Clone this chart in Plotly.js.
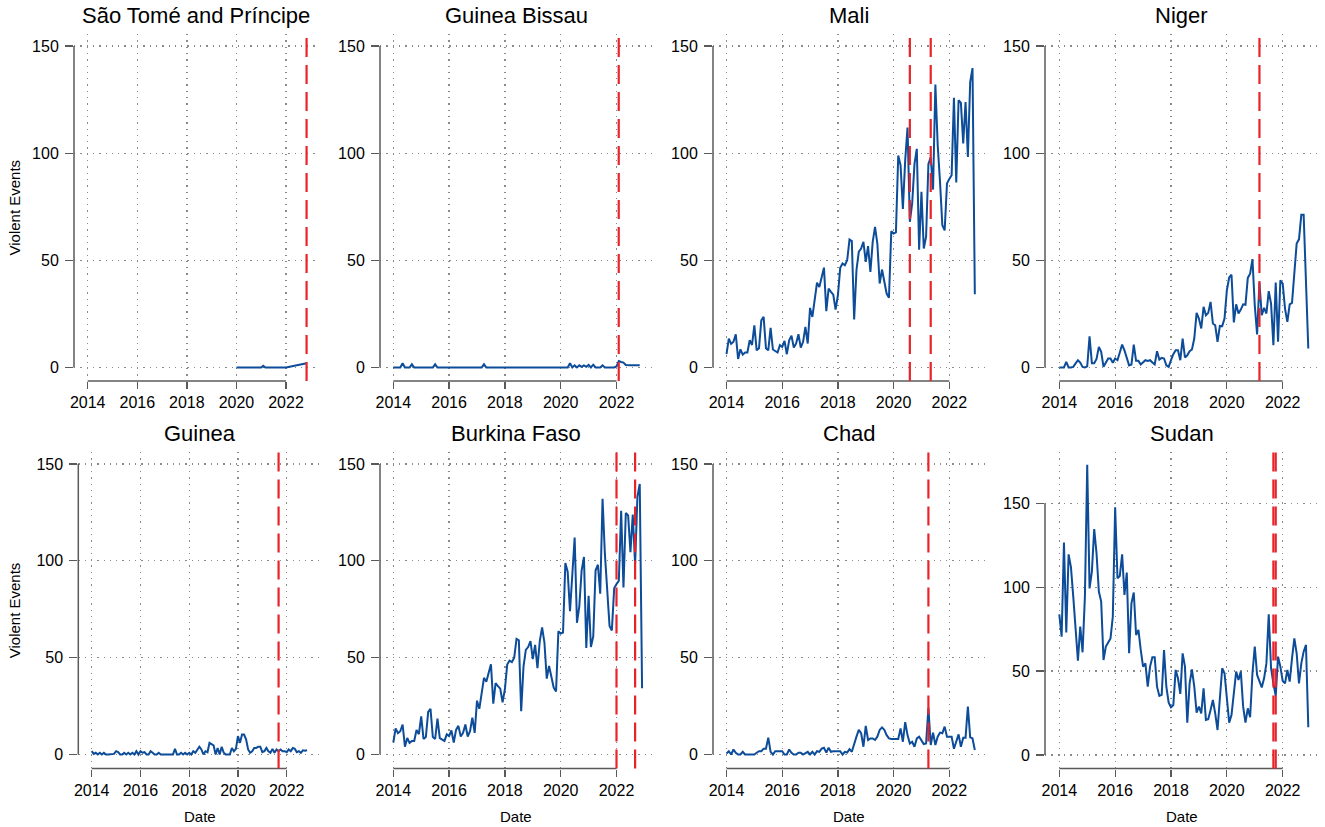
<!DOCTYPE html>
<html>
<head>
<meta charset="utf-8">
<script src="https://cdn.plot.ly/plotly-3.0.1.min.js"></script>
<style>
  html, body { margin: 0; padding: 0; background: #fff; }
  #myDiv { width: 1325px; height: 827px; }
</style>
</head>
<body>
<div id="myDiv"></div>
<script>
// Monthly violent events per country, month index 0 = Jan 2014
var countries = ["São Tomé and Príncipe", "Guinea Bissau", "Mali", "Niger",
                 "Guinea", "Burkina Faso", "Chad", "Sudan"];

var yearTicks = [2014, 2016, 2018, 2020, 2022];
var eventTicks = [0, 50, 100, 150];

// São Tomé only has a few observations
var stpMonths = [72, 84, 85, 86, 87, 96, 106];
var stpEvents = [0, 0, 0.8, 0, 0, 0, 2];

var guineaBissauEvents = [
  0, 0, 0, 0, 2, 0, 0, 0, 1.5, 0, 0, 0,
  0, 0, 0, 0, 0, 0, 1.5, 0, 0, 0, 0, 0,
  0, 0, 0, 0, 0, 0, 0, 0, 0, 0, 0, 0,
  0, 0, 0, 1.5, 0, 0, 0, 0, 0, 0, 0, 0,
  0, 0, 0, 0, 0, 0, 0, 0, 0, 0, 0, 0,
  0, 0, 0, 0, 0, 0, 0, 0, 0, 0, 0, 0,
  0, 0, 0, 0, 2, 0, 1, 0, 1, 0.3, 1, 0.3,
  1.2, 0, 1.3, 0, 0, 0, 1, 0, 0, 0, 0, 0,
  0.5, 3, 2.6, 2.3, 1.2, 1, 1, 1, 1, 1, 1];

var maliEvents = [
  6.2, 13.5, 11, 12, 15.5, 4, 8.5, 6, 7, 7, 12.7, 10.5,
  19.7, 8, 9, 22, 23.6, 9, 8, 18.5, 8.4, 7.8, 7, 10.4,
  9.6, 12.4, 6.2, 12.7, 14.8, 9.3, 11.2, 15.5, 9.3, 12, 19, 11.2,
  27.8, 23.6, 32, 39.6, 37.6, 42.3, 46.6, 26.3, 36.8, 35.3, 34, 27,
  33.7, 46.5, 48.5, 47.7, 50, 59.7, 59, 22.4, 45.4, 54, 55.5, 58.6,
  49.3, 56.6, 44.6, 58.6, 65.6, 57.8, 39.2, 45.7, 40.4, 34.5, 32.5, 63.6,
  62.5, 63, 98.9, 94.4, 74, 96.7, 112, 68, 76.5, 95, 102, 55,
  82, 55.5, 61, 95, 98, 83, 132, 103.7, 86.6, 66.4, 64, 85.8,
  88, 89.7, 125.8, 86.3, 124.7, 123.4, 104.5, 123.9, 98.2, 133.2, 139.7, 34.2];

var nigerEvents = [
  0, 0, 0, 2.6, 0, 0, 0.3, 1.9, 3.4, 2.3, 0.3, 0,
  0.5, 14.5, 2, 2, 4, 9.6, 7.3, 0.3, 2, 4.2, 4.2, 2.2,
  4.2, 3.4, 7, 10.7, 8, 4.2, 1, 1.4, 10.7, 3.1, 3.1, 1.4,
  2.2, 3.4, 3.1, 3.4, 2.3, 1.4, 7.6, 3.7, 4.5, 4.2, 1, 0.3,
  3.4, 6.2, 8, 8, 3.4, 13.5, 4.7, 5.7, 7.6, 8.4, 13.5, 25.5,
  22.8, 18.2, 28.3, 24.4, 25.5, 30.6, 20.5, 19.7, 12, 19.4, 19.3, 22.8,
  36, 42, 43.3, 21, 29.5, 25.2, 27, 29.5, 29.3, 41.8, 43.8, 50.6,
  29, 15.4, 39.6, 24.4, 27.8, 25.2, 35.6, 29.8, 10.4, 39.6, 12, 40.7,
  39.1, 27.5, 21.3, 29.5, 30.1, 45.7, 57.8, 59.8, 71.3, 71.3, 40, 8.9];

var guineaEvents = [
  1.7, 0.3, 0.9, 0, 0.9, 0, 0.9, 0, 0, 0, 0, 0.3,
  1.7, 1.2, 0, 0, 0.9, 0, 0.9, 0, 0.9, 0, 1.7, 0,
  1.7, 0.9, 1.2, 0, 0, 1.7, 0.9, 0, 0, 0.9, 0, 0,
  0, 0, 0, 0, 0, 2.9, 0, 0, 0.9, 0, 0.9, 0,
  0.9, 0, 1.7, 0.9, 2.6, 4, 2.6, 0, 1.7, 1.2, 6, 5.2,
  4.7, 0, 3.4, 0, 4, 0.9, 0, 0, 0, 3.4, 1.7, 2.9,
  9.5, 6, 10.3, 10.3, 7.8, 2.6, 0.9, 1.7, 3.4, 3.4, 4, 4,
  1.2, 1.7, 3.4, 1.7, 0.9, 2.9, 0.9, 2.6, 1.7, 2.6, 1.7, 1.7,
  1.2, 2.6, 1.7, 3.4, 2.9, 1.2, 1.7, 0.9, 2.2, 2, 2.2];

// the source figure shows the same series for Burkina Faso as for Mali
var burkinaEvents = maliEvents.slice();

var chadEvents = [
  0.5, 1.7, 0, 2.6, 0.9, 0, 0, 1.4, 0, 0, 0, 0,
  0, 0.9, 1.7, 1.7, 3, 3, 8.7, 1.4, 0, 1.7, 1.7, 1.7,
  1.7, 0, 0, 2.6, 0.9, 0, 0, 0.9, 0.9, 0, 0.9, 1.4,
  0, 1.4, 0, 1.7, 1.4, 3, 3.5, 1, 3.5, 1.4, 1.7, 1.7,
  1.4, 1.7, 0, 1.4, 1, 2.8, 1.4, 5.7, 9.2, 12.7, 11, 4,
  14.8, 7.5, 8.3, 8.3, 7.5, 9.2, 12.7, 14, 12.7, 10, 8.3, 8,
  8, 8, 8, 13.5, 6.6, 16.7, 10, 5.7, 6.6, 4, 8.3, 9.2,
  7.5, 5.4, 5.7, 24, 4.9, 11.3, 4.9, 9.2, 11.3, 11, 14.4, 9.2,
  9.2, 9.2, 3, 6.6, 10.4, 4, 8.7, 8.7, 24.8, 8.9, 8.3, 2.3];

var sudanEvents = [
  83.8, 70.5, 126.6, 73, 119.6, 112, 94.4, 76.5, 56.2, 76.5, 61.2, 94.4,
  172.9, 99.3, 109.3, 134.7, 120.2, 97.4, 91.4, 56.6, 64.6, 67, 69.5, 82.5,
  147.6, 105.3, 106.7, 119.6, 95.4, 108.7, 60.6, 90.4, 96.8, 71.5, 74.5, 62.6,
  52.7, 54.6, 40.7, 52.7, 58.2, 58.2, 40.7, 35.2, 35.8, 62.6, 40.7, 31.2,
  28.4, 29.8, 50.7, 45.7, 36.4, 60.6, 52.7, 19.3, 42.7, 51, 40.7, 25.2,
  28.8, 24.8, 39.7, 20.9, 21.3, 26.8, 32.8, 24.8, 14.9, 33.8, 51.7, 48.7,
  31.8, 19.3, 23.8, 36.8, 49.7, 44.7, 49.7, 28.8, 19.3, 27.8, 22.5, 48.7,
  64.6, 47.7, 43.7, 40.3, 45.7, 54.6, 83.8, 51.7, 42.7, 35.2, 58.6, 52.7,
  44.1, 42.7, 50.7, 43.7, 57.6, 69.5, 60.6, 42.7, 54.6, 61.6, 65.6, 16.5];

// coup / coup attempt dates (decimal year), same order as countries
var coupDates = [[2022.83], [2022.08], [2020.583, 2021.333], [2021.167],
                 [2021.667], [2022.0, 2022.667], [2021.25], [2021.667, 2021.75]];

// ---------------------------------------------------------------------
function firstMonths(n) {
  var a = [];
  for (var i = 0; i < n; i++) a.push(i);
  return a;
}
function toYears(months) {
  return months.map(function (m) { return 2014 + m / 12; });
}

var seriesMonths = [stpMonths, firstMonths(guineaBissauEvents.length), firstMonths(maliEvents.length),
  firstMonths(nigerEvents.length), firstMonths(guineaEvents.length), firstMonths(burkinaEvents.length),
  firstMonths(chadEvents.length), firstMonths(sudanEvents.length)];
var seriesValues = [stpEvents, guineaBissauEvents, maliEvents, nigerEvents,
  guineaEvents, burkinaEvents, chadEvents, sudanEvents];

// pixel frame of every panel: y axis line, 2014 / 2022 positions, right edge,
// top, x axis line, pixel of 0 and of 150
var W = 1325, H = 827;
var frames = [
  {left: 74,   x14: 87.7,   x22: 286,    right: 318,  top: 34,  bottom: 381,   p0: 367.5, p150: 46},
  {left: 380,  x14: 393.3,  x22: 616.5,  right: 652,  top: 34,  bottom: 381,   p0: 367.5, p150: 46},
  {left: 713,  x14: 726.5,  x22: 949.3,  right: 985,  top: 34,  bottom: 381,   p0: 367.5, p150: 46},
  {left: 1045, x14: 1059.3, x22: 1282.7, right: 1318, top: 34,  bottom: 381,   p0: 367.5, p150: 46},
  {left: 78.3, x14: 91.7,   x22: 286.7,  right: 321,  top: 452, bottom: 768.5, p0: 754.5, p150: 464},
  {left: 380,  x14: 393.3,  x22: 616.5,  right: 652,  top: 452, bottom: 768.5, p0: 754.5, p150: 464},
  {left: 713,  x14: 726.5,  x22: 949.3,  right: 985,  top: 452, bottom: 768.5, p0: 754.5, p150: 464},
  {left: 1045, x14: 1059.3, x22: 1282.7, right: 1318, top: 452, bottom: 768.5, p0: 755,   p150: 503.3}
];

var fontFamily = "Liberation Sans, Arial, Helvetica, sans-serif";
var axisGray = "#5a5a5a";

var data = [];
var layout = {
  width: W, height: H,
  margin: {l: 0, r: 0, t: 0, b: 0},
  paper_bgcolor: "#fff", plot_bgcolor: "#fff",
  showlegend: false,
  font: {family: fontFamily, color: "#000", size: 16},
  shapes: [], annotations: []
};

for (var i = 0; i < countries.length; i++) {
  var f = frames[i];
  var n = i === 0 ? "" : String(i + 1);
  var xName = "x" + n, yName = "y" + n;

  var ppy = (f.x22 - f.x14) / 8;
  var ppu = (f.p0 - f.p150) / 150;
  var xRange = [2014 - (f.x14 - f.left) / ppy, 2022 + (f.right - f.x22) / ppy];
  var yRange = [-(f.bottom - f.p0) / ppu, 150 + (f.p150 - f.top) / ppu];

  data.push({
    x: toYears(seriesMonths[i]),
    y: seriesValues[i],
    xaxis: xName, yaxis: yName,
    type: "scatter", mode: "lines",
    line: {color: "#0c4c99", width: 2},
    hoverinfo: "skip"
  });

  layout["xaxis" + n] = {
    domain: [f.left / W, f.right / W],
    anchor: yName,
    range: xRange,
    tickmode: "array", tickvals: yearTicks,
    ticks: "outside", ticklen: 7, tickwidth: 1.3, tickcolor: axisGray,
    ticklabelstandoff: 0,
    showline: false, zeroline: false,
    showgrid: true, gridcolor: "#8a8a8a", gridwidth: 1.3, griddash: "1.3px,5px",
    tickfont: {size: 16, color: "#000"}
  };
  layout["yaxis" + n] = {
    domain: [1 - f.bottom / H, 1 - f.top / H],
    anchor: xName,
    range: yRange,
    tickmode: "array", tickvals: eventTicks,
    ticks: "outside", ticklen: 8, tickwidth: 1.3, tickcolor: axisGray,
    ticklabelstandoff: 3,
    showline: false, zeroline: false,
    showgrid: true, gridcolor: "#8a8a8a", gridwidth: 1.3, griddash: "1.3px,5px",
    tickfont: {size: 16, color: "#000"}
  };

  // R style axis lines, only between first and last tick
  layout.shapes.push({
    type: "line", xref: xName, yref: yName + " domain",
    x0: yearTicks[0], x1: yearTicks[yearTicks.length - 1], y0: 0, y1: 0,
    line: {color: axisGray, width: 1.5}, layer: "above"
  });
  layout.shapes.push({
    type: "line", xref: xName + " domain", yref: yName,
    x0: 0, x1: 0, y0: eventTicks[0], y1: eventTicks[eventTicks.length - 1],
    line: {color: axisGray, width: 1.5}, layer: "above"
  });

  // coup dates
  coupDates[i].forEach(function (d) {
    layout.shapes.push({
      type: "line", xref: xName, yref: yName + " domain",
      x0: d, x1: d, y0: 0, y1: 1,
      line: {color: "#e8232a", width: 2.2, dash: "19px,8px"}, layer: "above"
    });
  });

  // panel title
  layout.annotations.push({
    text: countries[i], showarrow: false,
    xref: xName + " domain", yref: yName + " domain",
    x: 0.5, y: 1, xanchor: "center", yanchor: "bottom", yshift: 4,
    font: {size: 22, color: "#000"}
  });

  if (i % 4 === 0) {
    layout.annotations.push({
      text: "Violent Events", showarrow: false, textangle: -90,
      xref: "paper", yref: yName + " domain",
      x: 14 / W, y: 0.5, xanchor: "center", yanchor: "middle",
      font: {size: 15, color: "#000"}
    });
  }
  if (i >= 4) {
    layout.annotations.push({
      text: "Date", showarrow: false,
      xref: xName + " domain", yref: "paper",
      x: 0.5, y: 1 - 816 / H, xanchor: "center", yanchor: "middle",
      font: {size: 15, color: "#000"}
    });
  }
}

Plotly.newPlot("myDiv", data, layout, {displayModeBar: false, staticPlot: true});
</script>
</body>
</html>
